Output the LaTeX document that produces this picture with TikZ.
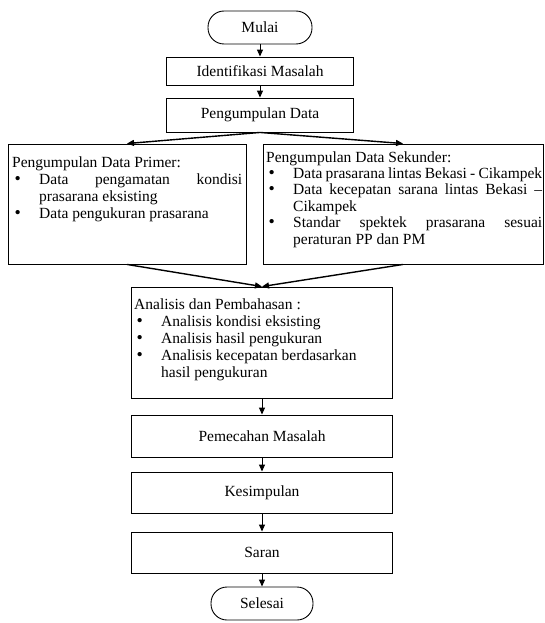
\documentclass[tikz,border=0pt]{standalone}
\usepackage{fontspec}
\setmainfont{Liberation Serif}
\usetikzlibrary{arrows.meta}
\newcommand{\bul}{\makebox[27pt][l]{\hspace{2.5pt}\scalebox{1.15}{\textbullet}}}
\newcommand{\ind}{\hspace*{27pt}}
\newcommand{\jl}[2]{\hbox to #1{#2}}
\tikzset{
  box/.style={draw, line width=0.9pt, inner sep=0pt, font=\fontsize{15.5}{17}\selectfont},
  term/.style={box, rounded corners=16pt, minimum width=104pt, minimum height=33pt},
  arr/.style={-{Triangle[length=7pt,width=6pt]}, line width=1pt},
  diag/.style={arr, line width=1.4pt},
  txt/.style={inner sep=0pt, anchor=base west, font=\fontsize{15.5}{17}\selectfont}
}
\begin{document}
\begin{tikzpicture}[x=1pt,y=-1pt]
\useasboundingbox (0,0) rectangle (545,623);
% boxes
\node[term] (mulai) at (260,27.5) {Mulai};
\node[box, minimum width=187pt, minimum height=28pt] (ident) at (260,71) {Identifikasi Masalah};
\node[box, minimum width=187pt, minimum height=34pt] (kumpul) at (260,115) {Pengumpulan Data};
\node[box, minimum width=238pt, minimum height=120pt] (primer) at (127,204) {};
\node[box, minimum width=280pt, minimum height=120pt] (sekunder) at (403,204) {};
\node[box, minimum width=261pt, minimum height=111pt] (analisis) at (262,342.5) {};
\node[box, minimum width=261pt, minimum height=42pt] (pemecahan) at (262,436) {Pemecahan Masalah};
\node[box, minimum width=261pt, minimum height=41pt] (kesimpulan) at (262,492.5) {Kesimpulan};
\node[box, minimum width=261pt, minimum height=41pt] (saran) at (262,552.5) {Saran};
\node[term, minimum width=102pt] (selesai) at (262,603.5) {Selesai};
% texts
\node[txt] (primertxt) at (12,167) {\vtop{%
  \hbox{Pengumpulan Data Primer:}
  \hbox{\bul\jl{203pt}{Data\hfill pengamatan\hfill kondisi}}
  \hbox{\ind prasarana eksisting}
  \hbox{\bul Data pengukuran prasarana}}};
\node[txt, font=\fontsize{15.5}{16.4}\selectfont] (sekundertxt) at (266,162) {\vtop{%
  \hbox{Pengumpulan Data Sekunder:}
  \hbox{\bul\jl{249pt}{Data prasarana lintas Bekasi - Cikampek}}
  \hbox{\bul\jl{249pt}{Data\hfill kecepatan\hfill sarana\hfill lintas\hfill Bekasi\hfill –}}
  \hbox{\ind Cikampek}
  \hbox{\bul\jl{249pt}{Standar\hfill spektek\hfill prasarana\hfill sesuai}}
  \hbox{\ind peraturan PP dan PM}}};
\node[txt] (analisistxt) at (134,309) {\vtop{%
  \hbox{Analisis dan Pembahasan :}
  \hbox{\bul Analisis kondisi eksisting}
  \hbox{\bul Analisis hasil pengukuran}
  \hbox{\bul Analisis kecepatan berdasarkan}
  \hbox{\ind hasil pengukuran}}};
% connectors
\draw[arr] (mulai.south) -- (ident.north);
\draw[arr] (ident.south) -- (kumpul.north);
\draw[diag] (kumpul.south) -- (primer.north);
\draw[diag] (kumpul.south) -- (sekunder.north);
\draw[diag] (primer.south) -- (analisis.north);
\draw[diag] (sekunder.south) -- (analisis.north);
\draw[arr] (analisis.south) -- (pemecahan.north);
\draw[arr] (pemecahan.south) -- (kesimpulan.north);
\draw[arr] (kesimpulan.south) -- (saran.north);
\draw[arr] (saran.south) -- (selesai.north);
\end{tikzpicture}
\end{document}
